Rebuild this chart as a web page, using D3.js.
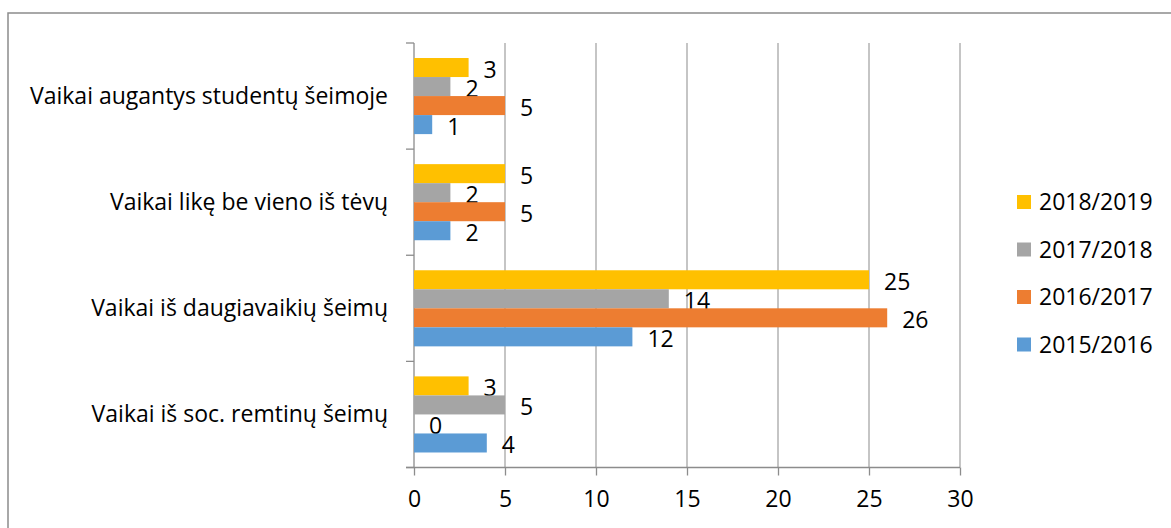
<!DOCTYPE html>
<html>
<head>
<meta charset="utf-8">
<script src="https://cdn.jsdelivr.net/npm/d3@7"></script>
<style>
  body { margin: 0; background: #fff; }
  text { font-family: "Open Sans", "Noto Sans", sans-serif; }
</style>
</head>
<body>
<div id="chart"></div>
<script>
// categories top to bottom
const categories = [
  "Vaikai augantys studentų šeimoje",
  "Vaikai likę be vieno iš tėvų",
  "Vaikai iš daugiavaikių šeimų",
  "Vaikai iš soc. remtinų šeimų"
];
// series, listed top-down inside each group
const seriesNames = ["2018/2019", "2017/2018", "2016/2017", "2015/2016"];
const seriesColors = ["#FFC000", "#A5A5A5", "#ED7D31", "#5B9BD5"];

const v2018_2019 = [3, 5, 25, 3];
const v2017_2018 = [2, 2, 14, 5];
const v2016_2017 = [5, 5, 26, 0];
const v2015_2016 = [1, 2, 12, 4];
const seriesValues = [v2018_2019, v2017_2018, v2016_2017, v2015_2016];

const xTicks = [0, 5, 10, 15, 20, 25, 30];

const W = 1171, H = 528;
const fs = "23px";
const svg = d3.select("#chart").append("svg")
  .attr("width", W).attr("height", H);

// outer frame (only top/left visible in the picture)
svg.append("rect")
  .attr("x", 8).attr("y", 13)
  .attr("width", 1200).attr("height", 600)
  .attr("fill", "none")
  .attr("stroke", "#8c8c8c")
  .attr("stroke-width", 1.5);

const x = d3.scaleLinear().domain([0, 30]).range([414, 960]);
const y = d3.scaleBand().domain(categories).range([43, 467.5])
  .paddingInner(0.283).paddingOuter(0.1415);
const ySub = d3.scaleBand().domain(seriesNames).range([0, y.bandwidth()]);

// vertical gridlines
svg.append("g")
  .selectAll("line")
  .data(xTicks.filter(d => d > 0))
  .join("line")
  .attr("x1", d => x(d)).attr("x2", d => x(d))
  .attr("y1", 43).attr("y2", 467.5)
  .attr("stroke", "#a6a6a6")
  .attr("stroke-width", 1.3);

// x axis
const xAxis = svg.append("g")
  .attr("transform", "translate(0,467.5)")
  .call(d3.axisBottom(x).tickValues(xTicks).tickSize(8).tickSizeOuter(0).tickPadding(15));
xAxis.select(".domain").attr("stroke", "#8c8c8c").attr("stroke-width", 1.3)
  .attr("d", `M406,0H${x(30)}`);
xAxis.selectAll(".tick line").attr("stroke", "#8c8c8c").attr("stroke-width", 1.3);
xAxis.selectAll(".tick text").style("font-size", fs).attr("fill", "#000");

// y axis: tick marks on category boundaries
const yAxis = svg.append("g");
yAxis.append("line")
  .attr("x1", x(0)).attr("x2", x(0))
  .attr("y1", 43).attr("y2", 467.5)
  .attr("stroke", "#8c8c8c").attr("stroke-width", 1.3);
const bounds = categories.map(c => y(c) - y.step() * y.paddingInner() / 2)
  .concat([467.5]);
yAxis.selectAll(".yt")
  .data(bounds)
  .join("line")
  .attr("x1", 406).attr("x2", x(0))
  .attr("y1", d => d).attr("y2", d => d)
  .attr("stroke", "#8c8c8c").attr("stroke-width", 1.3);
yAxis.selectAll(".ylab")
  .data(categories)
  .join("text")
  .attr("x", 388)
  .attr("y", d => y(d) + y.bandwidth() / 2)
  .attr("dy", "0.35em")
  .attr("text-anchor", "end")
  .style("font-size", fs)
  .attr("fill", "#000")
  .text(d => d);

// bars
const groups = svg.append("g").selectAll("g")
  .data(seriesNames.map((s, i) => ({name: s, color: seriesColors[i], values: seriesValues[i]})))
  .join("g");

groups.selectAll("rect")
  .data(s => s.values.map((v, j) => ({s, v, c: categories[j]})))
  .join("rect")
  .attr("x", x(0))
  .attr("y", d => y(d.c) + ySub(d.s.name))
  .attr("width", d => x(d.v) - x(0))
  .attr("height", ySub.bandwidth())
  .attr("fill", d => d.s.color);

groups.selectAll("text")
  .data(s => s.values.map((v, j) => ({s, v, c: categories[j]})))
  .join("text")
  .attr("x", d => x(d.v) + 15)
  .attr("y", d => y(d.c) + ySub(d.s.name) + ySub.bandwidth() / 2 + 2)
  .attr("dy", "0.35em")
  .style("font-size", fs)
  .attr("fill", "#000")
  .text(d => d.v);

// legend
const legend = svg.append("g").selectAll("g")
  .data(seriesNames)
  .join("g")
  .attr("transform", (d, i) => `translate(1017,${202 + i * 47.5})`);
legend.append("rect")
  .attr("x", 0).attr("y", -7)
  .attr("width", 14).attr("height", 14)
  .attr("fill", (d, i) => seriesColors[i]);
legend.append("text")
  .attr("x", 22).attr("y", 0)
  .attr("dy", "0.35em")
  .style("font-size", fs)
  .attr("fill", "#000")
  .text(d => d);
</script>
</body>
</html>
